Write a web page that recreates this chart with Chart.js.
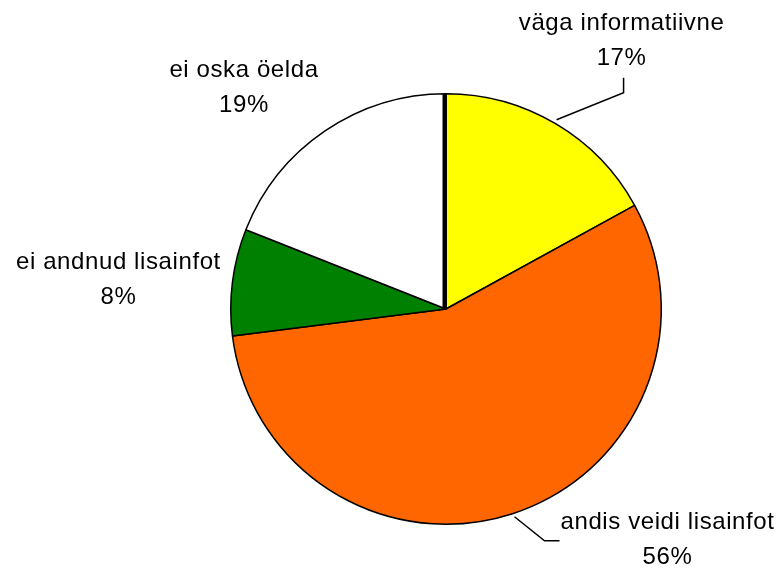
<!DOCTYPE html>
<html>
<head>
<meta charset="utf-8">
<script src="https://cdn.jsdelivr.net/npm/chart.js@4"></script>
<style>
  html, body { margin: 0; padding: 0; background: #fff; }
  #wrap { width: 780px; height: 569px; }
</style>
</head>
<body>
<div id="wrap"><canvas id="pieChart" width="780" height="569"></canvas></div>
<script>
const labels = ['väga informatiivne', 'andis veidi lisainfot', 'ei andnud lisainfot', 'ei oska öelda'];
const percents = [17, 56, 8, 19];
const colors = ['#ffff00', '#ff6600', '#008000', '#ffffff'];

// label placement relative to the rim point at each slice's middle angle
const labelOffsets = [[66, -83], [155, 26], [-114, -2], [-81, -43]];
const leaders = [true, true, false, false];

const labelPlugin = {
  id: 'pieLabels',
  afterDatasetsDraw(chart) {
    const ctx = chart.ctx;
    const arcs = chart.getDatasetMeta(0).data;
    ctx.save();
    ctx.font = '24px "Liberation Sans", Arial, sans-serif';
    ctx.letterSpacing = '0.6px';
    ctx.fillStyle = '#000';
    ctx.strokeStyle = '#000';
    ctx.textAlign = 'center';
    ctx.textBaseline = 'middle';

    // heavy line at the start of the first slice
    const a0 = arcs[0];
    ctx.lineWidth = 4;
    ctx.beginPath();
    ctx.moveTo(a0.x - 1.5, a0.y);
    ctx.lineTo(a0.x - 1.5 + Math.cos(a0.startAngle) * a0.outerRadius, a0.y + Math.sin(a0.startAngle) * a0.outerRadius);
    ctx.stroke();

    arcs.forEach((arc, i) => {
      const mid = (arc.startAngle + arc.endAngle) / 2;
      const rx = arc.x + Math.cos(mid) * arc.outerRadius;
      const ry = arc.y + Math.sin(mid) * arc.outerRadius;
      const lx = rx + labelOffsets[i][0];
      const ly = ry + labelOffsets[i][1];
      ctx.fillText(labels[i], lx, ly - 17.5);
      ctx.fillText(percents[i] + '%', lx, ly + 17.5);
      if (leaders[i]) {
        ctx.lineWidth = 1.5;
        ctx.beginPath();
        if (i === 0) {
          ctx.moveTo(rx + 1, ry - 4);
          ctx.lineTo(lx + 2, ry - 31);
          ctx.lineTo(lx + 2, ry - 46);
        } else {
          ctx.moveTo(rx + 2, ry + 3);
          ctx.lineTo(rx + 32, ry + 27);
          ctx.lineTo(rx + 47, ry + 27);
        }
        ctx.stroke();
      }
    });
    ctx.restore();
  }
};

new Chart(document.getElementById('pieChart').getContext('2d'), {
  type: 'pie',
  data: {
    labels: labels,
    datasets: [{
      data: percents,
      backgroundColor: colors,
      borderColor: '#000',
      borderWidth: 1.5
    }]
  },
  options: {
    responsive: false,
    animation: false,
    layout: { padding: { left: 112, right: 0, top: 93, bottom: 44 } },
    plugins: {
      legend: { display: false },
      tooltip: { enabled: false },
      title: { display: false }
    }
  },
  plugins: [labelPlugin]
});
</script>
</body>
</html>
